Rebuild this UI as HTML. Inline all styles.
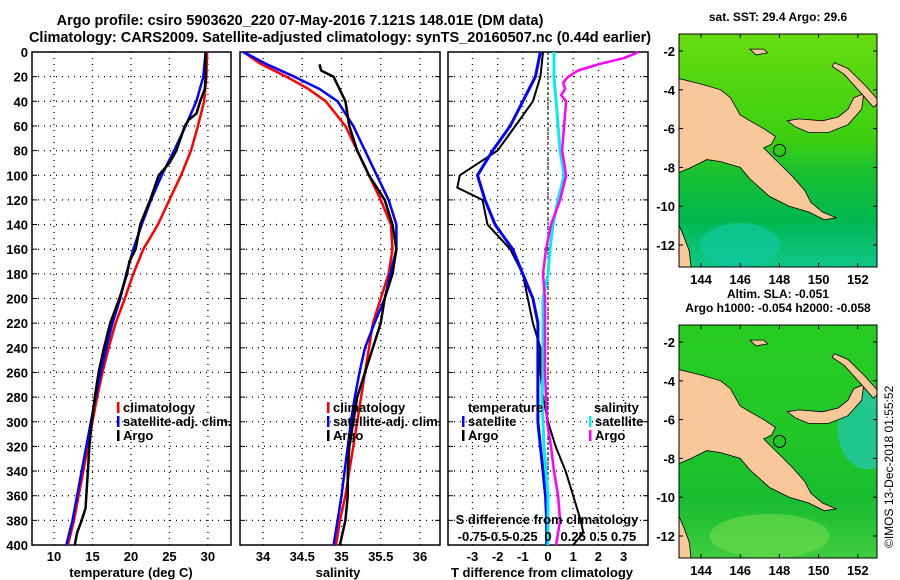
<!DOCTYPE html>
<html><head><meta charset="utf-8">
<style>
body{margin:0;background:#fff;}
svg{display:block;font-family:"Liberation Sans",sans-serif;font-weight:bold;}
text{fill:#000;}
</style></head>
<body>
<svg id="fig" width="900" height="580" viewBox="0 0 900 580" xmlns="http://www.w3.org/2000/svg">
<text x="300" y="25" font-size="14.5" text-anchor="middle">Argo profile: csiro 5903620_220 07-May-2016 7.121S 148.01E (DM data)</text>
<text x="340" y="42" font-size="14.5" text-anchor="middle">Climatology: CARS2009. Satellite-adjusted climatology: synTS_20160507.nc (0.44d earlier)</text>
<text x="0" y="0" font-size="12" font-weight="normal" transform="translate(893,548) rotate(-90)">©IMOS 13-Dec-2018 01:55:52</text>
</svg>
<script>
// ---------- data ----------
const depths = [0,20,40,60,80,100,120,140,160,180,200,220,240,260,280,300,320,340,360,380,400];
const tempClim = [29.9,29.8,29.5,28.7,27.8,26.5,25.0,23.5,21.6,20.3,19.2,18.0,17.1,16.3,15.6,15.0,14.4,13.8,13.2,12.6,11.8];
const tempSat  = [29.7,29.4,28.5,27.1,25.6,24.0,22.6,21.4,20.3,19.4,18.6,17.6,16.8,16.1,15.4,14.8,14.2,13.6,13.0,12.4,11.6];
const argoTDepths = [0,20,30,40,50,55,60,80,90,100,120,140,160,170,180,200,220,240,260,280,300,320,340,360,370,380,390,400];
const tempArgo = [29.7,29.7,29.6,29.0,28.5,27.5,27.0,25.9,25.0,23.6,22.5,21.2,20.6,19.8,19.5,18.5,17.3,16.5,15.8,15.3,14.9,14.6,14.4,14.2,14.1,13.6,13.0,12.7];
const salDepths = [0,10,20,30,40,60,80,100,120,140,160,180,200,220,240,260,280,300,320,340,360,380,400];
const salClim = [33.75,33.98,34.3,34.58,34.8,35.05,35.2,35.35,35.5,35.63,35.65,35.6,35.5,35.4,35.35,35.3,35.25,35.2,35.15,35.1,35.05,34.98,34.93];
const salSat  = [33.75,34.05,34.4,34.72,34.95,35.15,35.3,35.45,35.6,35.7,35.7,35.62,35.55,35.42,35.3,35.23,35.17,35.12,35.08,35.04,35.0,34.95,34.9];
const argoSDepths = [10,15,20,40,60,80,100,120,140,160,180,200,220,240,260,280,300,320,340,360,380,400];
const salArgo = [34.72,34.74,34.9,35.05,35.1,35.2,35.35,35.55,35.65,35.7,35.65,35.55,35.5,35.4,35.3,35.2,35.15,35.1,35.08,35.08,35.05,34.98];
const dTSat = [-0.3,-0.5,-1.0,-1.5,-2.2,-2.8,-2.5,-2.1,-1.4,-1.0,-0.6,-0.4,-0.4,-0.4,-0.4,-0.4,-0.3,-0.2,-0.1,-0.05,-0.05];
const dTArgoDepths = [0,20,40,60,80,100,110,120,140,160,180,200,220,240,260,280,300,320,340,360,380,390,400];
const dTArgo = [-0.2,-0.3,-0.6,-1.3,-2.0,-3.5,-3.6,-2.6,-2.4,-1.5,-1.0,-0.8,-0.6,-0.3,-0.3,-0.2,0.0,0.3,0.7,1.0,1.3,1.4,1.0];
const dSSat = [0.06,0.06,0.08,0.1,0.12,0.16,0.1,0.05,0.02,0.0,-0.05,-0.05,-0.05,-0.05,-0.06,-0.05,-0.04,-0.02,0.0,0.0,0.0];
const dSArgoDepths = [0,5,10,15,20,25,30,35,40,60,80,100,120,140,160,180,200,220,240,260,280,300,320,340,360,380,400];
const dSArgo = [0.9,0.75,0.5,0.3,0.2,0.15,0.17,0.13,0.18,0.16,0.14,0.18,0.12,0.03,-0.02,-0.05,-0.03,-0.03,-0.03,-0.03,-0.02,-0.01,0.03,0.06,0.1,0.12,0.08];
const depthTicks = [0,20,40,60,80,100,120,140,160,180,200,220,240,260,280,300,320,340,360,380,400];
const tempTicks = [10,15,20,25,30];
const salTicks = [34,34.5,35,35.5,36];
const salTickLabels = ["34","34.5","35","35.5","36"];
const dTTicks = [-3,-2,-1,0,1,2,3];
const dSTicks = [-0.75,-0.5,-0.25,0,0.25,0.5,0.75];
const dSTickLabels = ["-0.75","-0.5","-0.25","0","0.25","0.5","0.75"];
const lonTicks = [144,146,148,150,152];
const latTicks = [-2,-4,-6,-8,-10,-12];
const argoPos = [148.01,-7.121];

// ---------- helpers ----------
const NS="http://www.w3.org/2000/svg";
const svg=document.getElementById('fig');
function mk(tag,attrs,parent){const e=document.createElementNS(NS,tag);for(const k in attrs)e.setAttribute(k,attrs[k]);(parent||svg).appendChild(e);return e;}
const Y0=52, Y1=545;
const yD=d=>Y0+d*(Y1-Y0)/400;
function lin(d0,d1,r0,r1){return v=>r0+(v-d0)*(r1-r0)/(d1-d0);}

const panels=[
 {name:'temperature-panel',x0:32,x1:231,dom:[7.14,33.0]},
 {name:'salinity-panel',x0:240,x1:440,dom:[33.707,36.255]},
 {name:'difference-panel',x0:448,x1:648,dom:[-3.97,3.97]}
];
panels.forEach(p=>p.sx=lin(p.dom[0],p.dom[1],p.x0,p.x1));

function grid(p,ticks,showY){
  const g=mk('g',{});
  
  
  depthTicks.forEach(d=>{
    const y=yD(d);
    if(d>0&&d<400){const l=mk('line',{x1:p.x0,x2:p.x1,y1:y,y2:y,stroke:'#000','stroke-dasharray':'1,5','stroke-width':1.3},g);
      }
    mk('line',{x1:p.x0,x2:p.x0+5,y1:y,y2:y,stroke:'#000'},g);
    mk('line',{x1:p.x1-5,x2:p.x1,y1:y,y2:y,stroke:'#000'},g);
    if(showY){const t=mk('text',{x:p.x0-4,y:y+5,'font-size':13,'text-anchor':'end'},g);t.textContent=d;
      }
  });
  ticks.forEach(v=>{
    const x=p.sx(v);
    const l=mk('line',{x1:x,x2:x,y1:Y0,y2:Y1,stroke:'#000','stroke-dasharray':'1,5','stroke-width':1.3},g);
    
  });
  const r=mk('rect',{x:p.x0,y:Y0,width:p.x1-p.x0,height:Y1-Y0,fill:'none',stroke:'#000','stroke-width':1.5},g);
  
}
function xlabels(p,ticks,labels,y){
  ticks.forEach((v,i)=>{const t=mk('text',{x:p.sx(v),y:y,'font-size':13,'text-anchor':'middle'});
    t.textContent=labels?labels[i]:v;
    });
}
function line(p,xs,ds,color,name,w){
  const pts=xs.map((v,i)=>p.sx(v).toFixed(1)+','+yD(ds[i]).toFixed(1)).join(' ');
  const e=mk('polyline',{points:pts,fill:'none',stroke:color,'stroke-width':w||2.5,'stroke-linejoin':'round'});
  
  
}
function label(x,y,s,name,anchor,size){const t=mk('text',{x:x,y:y,'font-size':size||13,'text-anchor':anchor||'start'});t.textContent=s;
  return t;}
function legend(x,y,color,s,name){
  const b=mk('rect',{x:x,y:y-10,width:2.5,height:11,fill:color});
  
  label(x+6,y,s,name);
}

// panel 1
const P1=panels[0];
grid(P1,tempTicks,true);
line(P1,tempClim,depths,'#f00','temp-climatology-line');
line(P1,tempSat,depths,'#00f','temp-satellite-line');
line(P1,tempArgo,argoTDepths,'#000','temp-argo-line');
xlabels(P1,tempTicks,null,561);
label(131,577,'temperature (deg C)','temperature-axis-title','middle');
legend(117,412,'#f00','climatology','legend-climatology');
legend(117,426,'#00f','satellite-adj. clim.','legend-satellite');
legend(117,440,'#000','Argo','legend-argo');

// panel 2
const P2=panels[1];
grid(P2,salTicks,false);
line(P2,salClim,salDepths,'#f00','sal-climatology-line');
line(P2,salSat,salDepths,'#00f','sal-satellite-line');
line(P2,salArgo,argoSDepths,'#000','sal-argo-line');
xlabels(P2,salTicks,salTickLabels,561);
label(338,577,'salinity','salinity-axis-title','middle');
legend(327,412,'#f00','climatology','legend-climatology-2');
legend(327,426,'#00f','satellite-adj. clim.','legend-satellite-2');
legend(327,440,'#000','Argo','legend-argo-2');

// panel 3
const P3=panels[2];
grid(P3,dTTicks,false);
const zl=mk('line',{x1:P3.sx(0),x2:P3.sx(0),y1:Y0,y2:Y1,stroke:'#000','stroke-dasharray':'3,2','stroke-width':1});

const sS=v=>v*4; // S diff plotted on T-axis scale (0.75 S == 3 T)
line(P3,dTArgo,dTArgoDepths,'#000','dT-argo-line',2);
line(P3,dTSat,depths,'#00f','dT-satellite-line',3);
line(P3,dSSat.map(sS),depths,'#0ee','dS-satellite-line',3);
line(P3,dSArgo.map(sS),dSArgoDepths,'#f0f','dS-argo-line',2.5);
xlabels(P3,dTTicks,null,561);
label(542,577,'T difference from climatology','dT-axis-title','middle');
label(547,524,'S difference from climatology','dS-axis-title','middle');
dSTicks.forEach((v,i)=>{const t=label(P3.sx(sS(v)),541,dSTickLabels[i],'dS-tick-label','middle');});
label(468,412,'temperature','legend-temperature-header');
legend(462,426,'#00f','satellite','legend-dT-satellite');
legend(462,440,'#000','Argo','legend-dT-argo');
label(594,412,'salinity','legend-salinity-header');
legend(589,426,'#0ee','satellite','legend-dS-satellite');
legend(589,440,'#f0f','Argo','legend-dS-argo');

// ---------- maps ----------
const mainland=[[142.8,-3.4],[144,-3.7],[145,-4.0],[145.5,-4.4],[146,-5.3],[146.5,-5.6],[147.2,-6.0],[147.8,-6.4],[147.6,-6.8],[147.2,-7.0],[148,-7.8],[148.7,-8.5],[149.3,-9.2],[149.6,-9.8],[150.2,-10.3],[150.9,-10.6],[150.3,-10.7],[149.5,-10.3],[148.5,-10.0],[147.5,-9.5],[146.5,-8.6],[146,-8.0],[145,-7.7],[144.3,-7.6],[143.5,-8.0],[142.8,-8.3]];
const newBritain=[[148.4,-5.6],[149,-5.5],[150.2,-5.6],[151,-5.4],[151.5,-5.0],[151.8,-4.4],[152.3,-4.2],[152.2,-5.0],[151.5,-5.8],[150.5,-6.2],[149.5,-6.2],[148.8,-5.9]];
const newIreland=[[150.8,-2.6],[151.5,-2.9],[152.4,-3.8],[153.1,-4.6],[152.8,-4.9],[152.1,-4.1],[151.3,-3.2],[150.7,-2.8]];
const manus=[[146.5,-1.9],[147.2,-1.9],[147.4,-2.1],[146.8,-2.2]];
const capeYork=[[142.8,-10.8],[143.1,-11.5],[143.4,-12.3],[143.5,-13.2],[142.8,-13.2]];

function map(id,top,title,subtitle,south){
  const g=mk('g',{});
  
  
  const x0=679,x1=877,y0=top,y1=top+233;
  const X=lon=>701+(lon-144)*19.6;
  const Yl=lat=>top+17+(-(lat+2))*19.4;
  const cid='clip-'+id;
  const cp=mk('clipPath',{id:cid},g);mk('rect',{x:x0,y:y0,width:x1-x0,height:y1-y0},cp);
  const inner=mk('g',{'clip-path':'url(#'+cid+')'},g);
  const gid='grad-'+id;
  const defs=mk('defs',{},g);
  const lg=mk('linearGradient',{id:gid,x1:0,y1:0,x2:0,y2:1},defs);
  south.forEach(s=>mk('stop',{offset:s[0],'stop-color':s[1]},lg));
  const sea=mk('rect',{x:x0,y:y0,width:x1-x0,height:y1-y0,fill:'url(#'+gid+')'},inner);
  
  if(id==='sla-map'){
    const e=mk('ellipse',{cx:X(152.5),cy:Yl(-6.5),rx:30,ry:40,fill:'#22c8a8',opacity:0.8},inner);
    
    const e2=mk('ellipse',{cx:X(147.5),cy:Yl(-12),rx:60,ry:22,fill:'#66d848',opacity:0.7},inner);
    
  } else {
    const e=mk('ellipse',{cx:X(146),cy:Yl(-12),rx:40,ry:22,fill:'#10c8a0',opacity:0.7},inner);
    
  }
  [mainland,newBritain,newIreland,manus,capeYork].forEach(poly=>{
    const pe=mk('polygon',{points:poly.map(p=>X(p[0]).toFixed(1)+','+Yl(p[1]).toFixed(1)).join(' '),fill:'#f8c898',stroke:'#000','stroke-width':0.8},inner);
    
  });
  const c=mk('circle',{cx:X(argoPos[0]),cy:Yl(argoPos[1]),r:6,fill:'none',stroke:'#000','stroke-width':1},inner);
  
  const fr=mk('rect',{x:x0,y:y0,width:x1-x0,height:y1-y0,fill:'none',stroke:'#000','stroke-width':1},g);
  
  lonTicks.forEach(l=>{const x=X(l);mk('line',{x1:x,x2:x,y1:y0,y2:y0+4,stroke:'#000'},g);mk('line',{x1:x,x2:x,y1:y1-4,y2:y1,stroke:'#000'},g);
    const t=mk('text',{x:x,y:y1+17,'font-size':13,'text-anchor':'middle'},g);t.textContent=l;
    });
  latTicks.forEach(l=>{const y=Yl(l);mk('line',{x1:x0,x2:x0+4,y1:y,y2:y,stroke:'#000'},g);mk('line',{x1:x1-4,x2:x1,y1:y,y2:y,stroke:'#000'},g);
    const t=mk('text',{x:x0-4,y:y+5,'font-size':13,'text-anchor':'end'},g);t.textContent=l;
    });
  const tt=mk('text',{x:778,y:top-(subtitle?27:13),'font-size':12,'text-anchor':'middle'},g);tt.textContent=title;
  
  if(subtitle){const st=mk('text',{x:778,y:top-13,'font-size':12,'text-anchor':'middle'},g);st.textContent=subtitle;
    }
}
map('sst-map',34,'sat. SST: 29.4 Argo: 29.6',null,[[0,'#66dc10'],[0.45,'#3cd010'],[0.6,'#18c030'],[0.8,'#00b850'],[1,'#10c888']]);
map('sla-map',325,'Altim. SLA: -0.051','Argo h1000: -0.054 h2000: -0.058',[[0,'#28cc20'],[0.5,'#20c628'],[0.75,'#18bc30'],[1,'#40cc40']]);
</script>
</body></html>
